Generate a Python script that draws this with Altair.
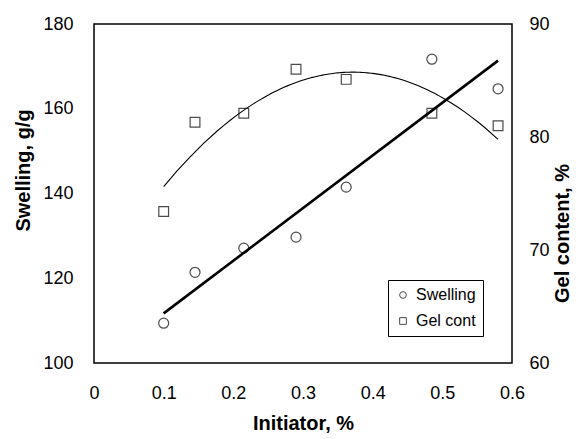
import altair as alt
import pandas as pd

# ---- data ----
initiator = [0.10, 0.145, 0.215, 0.29, 0.362, 0.485, 0.58]
swelling = [109.4, 121.4, 127.1, 129.7, 141.5, 171.7, 164.7]
gel_content = [73.4, 81.3, 82.1, 86.0, 85.1, 82.1, 81.0]
x_ticks = [0, 0.1, 0.2, 0.3, 0.4, 0.5, 0.6]
swell_ticks = [100, 120, 140, 160, 180]
gel_ticks = [60, 70, 80, 90]
series = ["Swelling", "Gel cont"]

df = pd.DataFrame({
    "x": initiator,
    "swelling": swelling,
    "gel": gel_content,
    "s1": series[0],
    "s2": series[1],
})

FONT = "Liberation Sans"

xenc = alt.X(
    "x:Q",
    scale=alt.Scale(domain=[0, 0.6], nice=False, zero=False),
    axis=alt.Axis(values=x_ticks, format=".1~f", title="Initiator, %",
                  labelFlush=False, labelPadding=21, titlePadding=11),
)

y_left = alt.Y(
    "swelling:Q",
    scale=alt.Scale(domain=[100, 180], nice=False, zero=False),
    axis=alt.Axis(values=swell_ticks, title="Swelling, g/g", orient="left",
                  labelPadding=21, titlePadding=9, titleY=146, titleAngle=270),
)

y_right = alt.Y(
    "gel:Q",
    scale=alt.Scale(domain=[60, 90], nice=False, zero=False),
    axis=alt.Axis(values=gel_ticks, title="Gel content, %", orient="right",
                  labelPadding=17, titlePadding=3, titleY=209, titleAngle=270,
                  titleBaseline="top"),
)

shape_scale = alt.Scale(domain=series, range=["circle", "square"])
legend = alt.Legend(
    title=None, orient="none", legendX=294, legendY=256,
    strokeColor="black", fillColor="white", padding=7, rowPadding=10,
    labelFont=FONT, labelFontSize=16, labelColor="black", labelOffset=5,
    symbolSize=45, symbolStrokeColor="black", symbolFillColor="white",
    symbolStrokeWidth=1,
)

base = alt.Chart(df)

swell_pts = base.mark_point(filled=False, color="black", size=100, strokeWidth=1.2).encode(
    x=xenc, y=y_left,
    shape=alt.Shape("s1:N", scale=shape_scale, legend=legend),
)
swell_line = base.transform_regression("x", "swelling", method="linear").mark_line(
    color="black", strokeWidth=2.6
).encode(x=xenc, y=y_left)

gel_pts = base.mark_point(filled=False, color="black", size=95, strokeWidth=1.2).encode(
    x=xenc, y=y_right,
    shape=alt.Shape("s2:N", scale=shape_scale, legend=legend),
)
gel_line = base.transform_regression("x", "gel", method="poly", order=2).mark_line(
    color="black", strokeWidth=1.1
).encode(x=xenc, y=y_right)

left = alt.layer(swell_line, swell_pts)
right = alt.layer(gel_line, gel_pts)

chart = (
    alt.layer(left, right)
    .resolve_scale(y="independent")
    .properties(
        width=418, height=339,
        autosize=alt.AutoSizeParams(type="none"),
        padding={"left": 86, "top": 16, "right": 62, "bottom": 70},
    )
    .configure_axis(
        labelFont=FONT, titleFont=FONT, labelFontSize=18, titleFontSize=20,
        titleFontWeight="bold", labelColor="black", titleColor="black",
        grid=False, ticks=False, tickSize=0, domain=False,
    )
    .configure_view(stroke="black", strokeWidth=1.5)
)

chart.save("out.html", embed_options={"renderer": "svg", "actions": False})
